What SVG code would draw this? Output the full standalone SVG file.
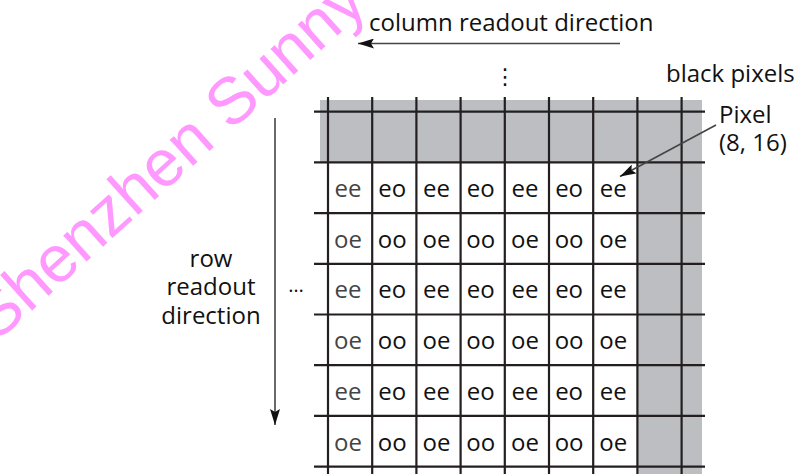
<svg xmlns="http://www.w3.org/2000/svg" width="799" height="474" viewBox="0 0 799 474">
<defs>
<style>
.lbl{font-family:"Open Sans","Liberation Sans",sans-serif;font-size:24px;fill:#111}
.cell{font-family:"Open Sans","Liberation Sans",sans-serif;font-size:24px;fill:#111;text-anchor:middle}
.c1{fill:#444}
.grid line{stroke:#231f20;stroke-width:2.2}
.conn{stroke:#444;stroke-width:1.6;fill:none}
.wm{font-family:"Liberation Sans",Arial,sans-serif;font-size:66px;fill:#ff99ff}
</style>
<marker id="ah" viewBox="0 0 16 10" refX="16" refY="5" markerWidth="16" markerHeight="10" markerUnits="userSpaceOnUse" orient="auto">
<path d="M0,0 L16,5 L0,10 L3,5 Z" fill="#111"/>
</marker>
</defs>
<rect width="799" height="474" fill="#fff"/>
<g id="watermark">
<text class="wm" transform="translate(-4,343) rotate(-42)">Shenzhen Sunny</text>
</g>
<g id="pixel-array">
<rect x="320" y="100" width="382" height="374" fill="#bdbec1"/>
<rect x="312" y="162.4" width="325.4" height="311.6" fill="#fff"/>
<g class="grid">
<line x1="314" y1="111.7" x2="705" y2="111.7"/>
<line x1="314" y1="162.4" x2="705" y2="162.4"/>
<line x1="314" y1="213.1" x2="705" y2="213.1"/>
<line x1="314" y1="263.8" x2="705" y2="263.8"/>
<line x1="314" y1="314.5" x2="705" y2="314.5"/>
<line x1="314" y1="365.2" x2="705" y2="365.2"/>
<line x1="314" y1="415.9" x2="705" y2="415.9"/>
<line x1="314" y1="466.6" x2="705" y2="466.6"/>
<line x1="328" y1="97" x2="328" y2="474"/>
<line x1="372.2" y1="97" x2="372.2" y2="474"/>
<line x1="416.4" y1="97" x2="416.4" y2="474"/>
<line x1="460.6" y1="97" x2="460.6" y2="474"/>
<line x1="504.8" y1="97" x2="504.8" y2="474"/>
<line x1="549" y1="97" x2="549" y2="474"/>
<line x1="593.2" y1="97" x2="593.2" y2="474"/>
<line x1="637.4" y1="97" x2="637.4" y2="474"/>
<line x1="681.6" y1="97" x2="681.6" y2="474"/>
</g>
</g>
<g id="cells">
<g id="row1">
<text class="cell c1" x="348" y="197">ee</text>
<text class="cell" x="392.3" y="197">eo</text>
<text class="cell" x="436.5" y="197">ee</text>
<text class="cell" x="480.7" y="197">eo</text>
<text class="cell" x="524.9" y="197">ee</text>
<text class="cell" x="569.1" y="197">eo</text>
<text class="cell" x="613.3" y="197">ee</text>
</g>
<g id="row2">
<text class="cell c1" x="348" y="247.7">oe</text>
<text class="cell" x="392.3" y="247.7">oo</text>
<text class="cell" x="436.5" y="247.7">oe</text>
<text class="cell" x="480.7" y="247.7">oo</text>
<text class="cell" x="524.9" y="247.7">oe</text>
<text class="cell" x="569.1" y="247.7">oo</text>
<text class="cell" x="613.3" y="247.7">oe</text>
</g>
<g id="row3">
<text class="cell c1" x="348" y="298.4">ee</text>
<text class="cell" x="392.3" y="298.4">eo</text>
<text class="cell" x="436.5" y="298.4">ee</text>
<text class="cell" x="480.7" y="298.4">eo</text>
<text class="cell" x="524.9" y="298.4">ee</text>
<text class="cell" x="569.1" y="298.4">eo</text>
<text class="cell" x="613.3" y="298.4">ee</text>
</g>
<g id="row4">
<text class="cell c1" x="348" y="349.1">oe</text>
<text class="cell" x="392.3" y="349.1">oo</text>
<text class="cell" x="436.5" y="349.1">oe</text>
<text class="cell" x="480.7" y="349.1">oo</text>
<text class="cell" x="524.9" y="349.1">oe</text>
<text class="cell" x="569.1" y="349.1">oo</text>
<text class="cell" x="613.3" y="349.1">oe</text>
</g>
<g id="row5">
<text class="cell c1" x="348" y="399.8">ee</text>
<text class="cell" x="392.3" y="399.8">eo</text>
<text class="cell" x="436.5" y="399.8">ee</text>
<text class="cell" x="480.7" y="399.8">eo</text>
<text class="cell" x="524.9" y="399.8">ee</text>
<text class="cell" x="569.1" y="399.8">eo</text>
<text class="cell" x="613.3" y="399.8">ee</text>
</g>
<g id="row6">
<text class="cell c1" x="348" y="450.5">oe</text>
<text class="cell" x="392.3" y="450.5">oo</text>
<text class="cell" x="436.5" y="450.5">oe</text>
<text class="cell" x="480.7" y="450.5">oo</text>
<text class="cell" x="524.9" y="450.5">oe</text>
<text class="cell" x="569.1" y="450.5">oo</text>
<text class="cell" x="613.3" y="450.5">oe</text>
</g>
</g>
<g id="labels">
<text id="col-label" class="lbl" x="369" y="31">column readout direction</text>
<text id="black-label" class="lbl" x="666" y="82">black pixels</text>
<text id="pixel-label" class="lbl" x="719"><tspan x="719" y="123">Pixel</tspan><tspan x="719" y="151">(8, 16)</tspan></text>
<text id="row-label" class="lbl" text-anchor="middle"><tspan x="211" y="267">row</tspan><tspan x="211" y="295">readout</tspan><tspan x="211" y="324">direction</tspan></text>
<text id="vdots" x="505" y="84" font-family="DejaVu Sans" font-size="22" text-anchor="middle" fill="#111">⋮</text>
<text id="hdots" x="296" y="292" font-family="Open Sans" font-size="20" text-anchor="middle" fill="#111">…</text>
</g>
<g id="connectors">
<line class="conn" x1="620" y1="43.5" x2="358" y2="43.5" marker-end="url(#ah)"/>
<line class="conn" x1="275" y1="118" x2="275" y2="425" marker-end="url(#ah)"/>
<line class="conn" x1="716" y1="125" x2="620" y2="176.5" marker-end="url(#ah)"/>
</g>
</svg>
